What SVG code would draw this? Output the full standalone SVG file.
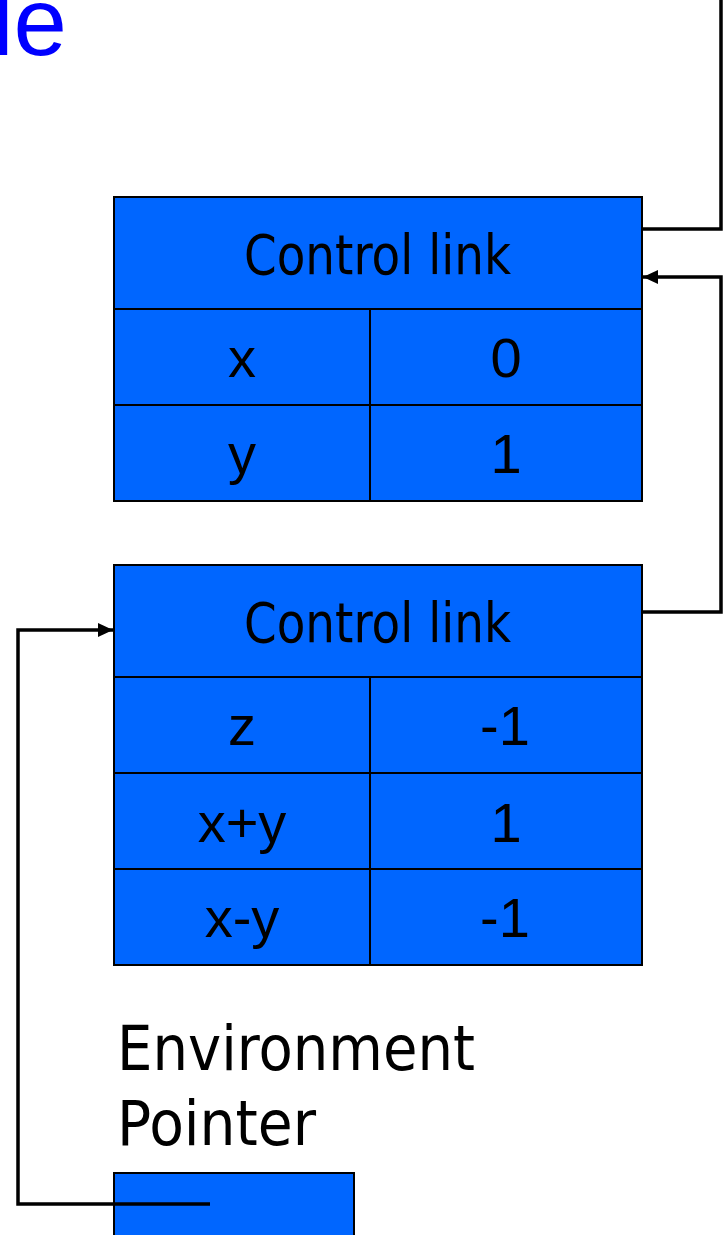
<svg xmlns="http://www.w3.org/2000/svg" width="726" height="1235" viewBox="0 0 726 1235">
  <style>
    .cell { fill: #0066FF; stroke: #000; stroke-width: 2; }
    .div { stroke: #000; stroke-width: 2; fill: none; }
    .hdr { font-family: "DejaVu Sans", "Verdana", sans-serif; font-size: 56px; fill: #000; }
    .env { font-family: "DejaVu Sans", "Verdana", sans-serif; font-size: 62px; fill: #000; }
    .val { font-family: "Liberation Sans", Arial, sans-serif; font-size: 56px; fill: #000; text-anchor: middle; }
    .conn { stroke: #000; stroke-width: 3.5; fill: none; }
    .title { font-family: "Liberation Sans", Arial, sans-serif; font-size: 96px; fill: #0000FF; text-anchor: end; }
  </style>
  <defs>
    <marker id="arrow" markerUnits="userSpaceOnUse" markerWidth="16" markerHeight="14" refX="15" refY="7" orient="auto">
      <path d="M0,0 L15,7 L0,14 Z" fill="#000"/>
    </marker>
  </defs>

  <text class="title" x="67" y="55">le</text>

  <g id="frame1">
    <rect class="cell" x="114" y="197" width="528" height="304"/>
    <line class="div" x1="114" y1="309" x2="642" y2="309"/>
    <line class="div" x1="114" y1="405" x2="642" y2="405"/>
    <line class="div" x1="370" y1="309" x2="370" y2="501"/>
    <text class="hdr" x="244" y="274" textLength="267" lengthAdjust="spacingAndGlyphs">Control link</text>
    <text class="val" x="242" y="377">x</text>
    <text class="val" x="506" y="377">0</text>
    <text class="val" x="242" y="473">y</text>
    <text class="val" x="506" y="473">1</text>
  </g>

  <g id="frame2">
    <rect class="cell" x="114" y="565" width="528" height="400"/>
    <line class="div" x1="114" y1="677" x2="642" y2="677"/>
    <line class="div" x1="114" y1="773" x2="642" y2="773"/>
    <line class="div" x1="114" y1="869" x2="642" y2="869"/>
    <line class="div" x1="370" y1="677" x2="370" y2="965"/>
    <text class="hdr" x="244" y="642" textLength="267" lengthAdjust="spacingAndGlyphs">Control link</text>
    <text class="val" x="242" y="745">z</text>
    <text class="val" x="505" y="745">-1</text>
    <text class="val" x="242" y="842">x+y</text>
    <text class="val" x="506" y="842">1</text>
    <text class="val" x="242" y="937">x-y</text>
    <text class="val" x="505" y="937">-1</text>
  </g>

  <g id="env">
    <text class="env" x="117" y="1070" textLength="358" lengthAdjust="spacingAndGlyphs">Environment</text>
    <text class="env" x="117" y="1145" textLength="199" lengthAdjust="spacingAndGlyphs">Pointer</text>
    <rect class="cell" x="114" y="1173" width="240" height="70"/>
  </g>

  <g id="connectors">
    <polyline class="conn" points="721,0 721,229 642,229"/>
    <polyline class="conn" points="642,612 721,612 721,277 643,277" marker-end="url(#arrow)"/>
    <polyline class="conn" points="210,1204 18,1204 18,630 113,630" marker-end="url(#arrow)"/>
  </g>
</svg>
